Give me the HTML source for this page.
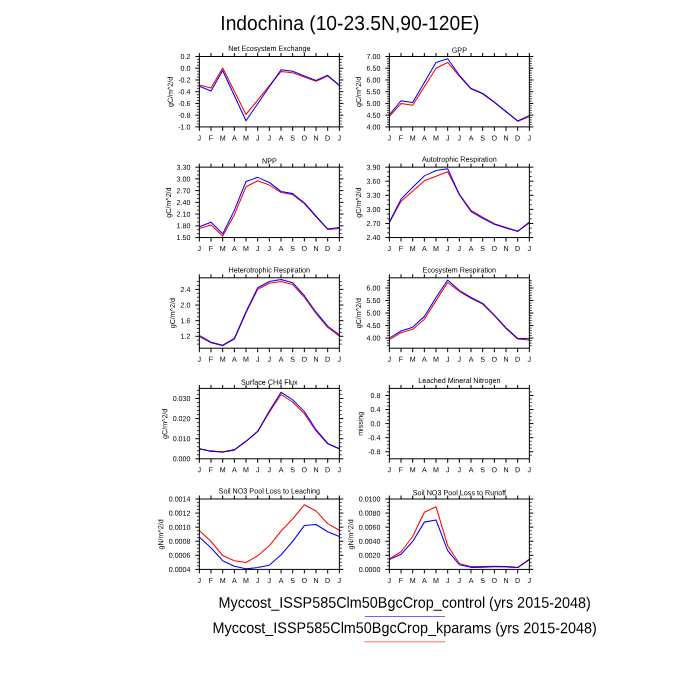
<!DOCTYPE html>
<html lang="en"><head><meta charset="utf-8"><title>Indochina (10-23.5N,90-120E)</title>
<style>html,body{margin:0;padding:0;background:#fff;}svg{display:block;opacity:0.999;will-change:transform;}text{font-family:"Liberation Sans", Arial, Helvetica, sans-serif;fill:#000;text-rendering:geometricPrecision;}.s{font-size:7.12px;}.fr{fill:none;stroke:#000;stroke-width:1;}.tk{stroke:#000;stroke-width:1;fill:none;}.tm{stroke:#000;stroke-width:0.75;fill:none;}.b{fill:none;stroke:#0000ff;stroke-width:1.05;stroke-linejoin:round;stroke-linecap:butt;}.r{fill:none;stroke:#ff0000;stroke-width:1.05;stroke-linejoin:round;stroke-linecap:butt;}</style></head><body>
<svg width="700" height="700" viewBox="0 0 700 700">
<rect x="0" y="0" width="700" height="700" fill="#fff"/>
<text transform="translate(349.9 30) rotate(0.03) scale(1 1.06)" text-anchor="middle" font-size="19.27">Indochina (10-23.5N,90-120E)</text>
<g>
<polyline class="r" points="199.35,85.04 211.02,88.04 222.68,68.11 246.02,114.39 281.02,71.43 292.68,72.71 304.35,77 316.02,81.29 327.68,76.14 339.35,85.36"/>
<polyline class="b" points="199.35,86.32 211.02,91.04 222.68,70.46 246.02,120.71 281.02,69.71 292.68,71.21 304.35,75.93 316.02,80.43 327.68,75.29 339.35,85.36"/>
<rect class="fr" x="199.35" y="56.5" width="140" height="70.4"/>
<path class="tk" d="M199.35 126.9v4M199.35 56.5v-3.5M211.02 126.9v4M211.02 56.5v-3.5M222.68 126.9v4M222.68 56.5v-3.5M234.35 126.9v4M234.35 56.5v-3.5M246.02 126.9v4M246.02 56.5v-3.5M257.68 126.9v4M257.68 56.5v-3.5M269.35 126.9v4M269.35 56.5v-3.5M281.02 126.9v4M281.02 56.5v-3.5M292.68 126.9v4M292.68 56.5v-3.5M304.35 126.9v4M304.35 56.5v-3.5M316.02 126.9v4M316.02 56.5v-3.5M327.68 126.9v4M327.68 56.5v-3.5M339.35 126.9v4M339.35 56.5v-3.5M199.35 56.5h-4M339.35 56.5h4M199.35 68.23h-4M339.35 68.23h4M199.35 79.97h-4M339.35 79.97h4M199.35 91.7h-4M339.35 91.7h4M199.35 103.43h-4M339.35 103.43h4M199.35 115.17h-4M339.35 115.17h4M199.35 126.9h-4M339.35 126.9h4"/>
<path class="tm" d="M199.35 59.43h-2.4M339.35 59.43h2.4M199.35 62.37h-2.4M339.35 62.37h2.4M199.35 65.3h-2.4M339.35 65.3h2.4M199.35 71.17h-2.4M339.35 71.17h2.4M199.35 74.1h-2.4M339.35 74.1h2.4M199.35 77.03h-2.4M339.35 77.03h2.4M199.35 82.9h-2.4M339.35 82.9h2.4M199.35 85.83h-2.4M339.35 85.83h2.4M199.35 88.77h-2.4M339.35 88.77h2.4M199.35 94.63h-2.4M339.35 94.63h2.4M199.35 97.57h-2.4M339.35 97.57h2.4M199.35 100.5h-2.4M339.35 100.5h2.4M199.35 106.37h-2.4M339.35 106.37h2.4M199.35 109.3h-2.4M339.35 109.3h2.4M199.35 112.23h-2.4M339.35 112.23h2.4M199.35 118.1h-2.4M339.35 118.1h2.4M199.35 121.03h-2.4M339.35 121.03h2.4M199.35 123.97h-2.4M339.35 123.97h2.4"/>
<text transform="translate(199.35 140.4) rotate(0.03) scale(1 1.03)" text-anchor="middle" font-size="7.12">J</text>
<text transform="translate(211.02 140.4) rotate(0.03) scale(1 1.03)" text-anchor="middle" font-size="7.12">F</text>
<text transform="translate(222.68 140.4) rotate(0.03) scale(1 1.03)" text-anchor="middle" font-size="7.12">M</text>
<text transform="translate(234.35 140.4) rotate(0.03) scale(1 1.03)" text-anchor="middle" font-size="7.12">A</text>
<text transform="translate(246.02 140.4) rotate(0.03) scale(1 1.03)" text-anchor="middle" font-size="7.12">M</text>
<text transform="translate(257.68 140.4) rotate(0.03) scale(1 1.03)" text-anchor="middle" font-size="7.12">J</text>
<text transform="translate(269.35 140.4) rotate(0.03) scale(1 1.03)" text-anchor="middle" font-size="7.12">J</text>
<text transform="translate(281.02 140.4) rotate(0.03) scale(1 1.03)" text-anchor="middle" font-size="7.12">A</text>
<text transform="translate(292.68 140.4) rotate(0.03) scale(1 1.03)" text-anchor="middle" font-size="7.12">S</text>
<text transform="translate(304.35 140.4) rotate(0.03) scale(1 1.03)" text-anchor="middle" font-size="7.12">O</text>
<text transform="translate(316.02 140.4) rotate(0.03) scale(1 1.03)" text-anchor="middle" font-size="7.12">N</text>
<text transform="translate(327.68 140.4) rotate(0.03) scale(1 1.03)" text-anchor="middle" font-size="7.12">D</text>
<text transform="translate(339.35 140.4) rotate(0.03) scale(1 1.03)" text-anchor="middle" font-size="7.12">J</text>
<text transform="translate(190.45 59.05) rotate(0.03) scale(1 1.03)" text-anchor="end" font-size="7.12">0.2</text>
<text transform="translate(190.45 70.78) rotate(0.03) scale(1 1.03)" text-anchor="end" font-size="7.12">0.0</text>
<text transform="translate(190.45 82.52) rotate(0.03) scale(1 1.03)" text-anchor="end" font-size="7.12">-0.2</text>
<text transform="translate(190.45 94.25) rotate(0.03) scale(1 1.03)" text-anchor="end" font-size="7.12">-0.4</text>
<text transform="translate(190.45 105.98) rotate(0.03) scale(1 1.03)" text-anchor="end" font-size="7.12">-0.6</text>
<text transform="translate(190.45 117.72) rotate(0.03) scale(1 1.03)" text-anchor="end" font-size="7.12">-0.8</text>
<text transform="translate(190.45 129.45) rotate(0.03) scale(1 1.03)" text-anchor="end" font-size="7.12">-1.0</text>
<text transform="translate(172.68 91.9) rotate(-89.97) scale(1 1.03)" text-anchor="middle" font-size="7.12">gC/m^2/d</text>
<text transform="translate(269.35 51.1) rotate(0.03) scale(1 1.06)" text-anchor="middle" font-size="7.2">Net Ecosystem Exchange</text>
</g>
<g>
<polyline class="r" points="389.35,116.43 401.02,103.57 412.68,105.29 436.02,68.21 447.68,62.43 459.35,76.14 471.02,88.79 482.68,93.71 494.35,102.29 517.68,121.14 529.35,116.64"/>
<polyline class="b" points="389.35,114.93 401.02,100.79 412.68,102.5 436.02,62.43 447.68,58.79 459.35,75.29 471.02,88.57 482.68,93.5 494.35,102.07 517.68,120.93 529.35,115.36"/>
<rect class="fr" x="389.35" y="56.5" width="140" height="70.4"/>
<path class="tk" d="M389.35 126.9v4M389.35 56.5v-3.5M401.02 126.9v4M401.02 56.5v-3.5M412.68 126.9v4M412.68 56.5v-3.5M424.35 126.9v4M424.35 56.5v-3.5M436.02 126.9v4M436.02 56.5v-3.5M447.68 126.9v4M447.68 56.5v-3.5M459.35 126.9v4M459.35 56.5v-3.5M471.02 126.9v4M471.02 56.5v-3.5M482.68 126.9v4M482.68 56.5v-3.5M494.35 126.9v4M494.35 56.5v-3.5M506.02 126.9v4M506.02 56.5v-3.5M517.68 126.9v4M517.68 56.5v-3.5M529.35 126.9v4M529.35 56.5v-3.5M389.35 56.5h-4M529.35 56.5h4M389.35 68.23h-4M529.35 68.23h4M389.35 79.97h-4M529.35 79.97h4M389.35 91.7h-4M529.35 91.7h4M389.35 103.43h-4M529.35 103.43h4M389.35 115.17h-4M529.35 115.17h4M389.35 126.9h-4M529.35 126.9h4"/>
<path class="tm" d="M389.35 58.85h-2.4M529.35 58.85h2.4M389.35 61.19h-2.4M529.35 61.19h2.4M389.35 63.54h-2.4M529.35 63.54h2.4M389.35 65.89h-2.4M529.35 65.89h2.4M389.35 70.58h-2.4M529.35 70.58h2.4M389.35 72.93h-2.4M529.35 72.93h2.4M389.35 75.27h-2.4M529.35 75.27h2.4M389.35 77.62h-2.4M529.35 77.62h2.4M389.35 82.31h-2.4M529.35 82.31h2.4M389.35 84.66h-2.4M529.35 84.66h2.4M389.35 87.01h-2.4M529.35 87.01h2.4M389.35 89.35h-2.4M529.35 89.35h2.4M389.35 94.05h-2.4M529.35 94.05h2.4M389.35 96.39h-2.4M529.35 96.39h2.4M389.35 98.74h-2.4M529.35 98.74h2.4M389.35 101.09h-2.4M529.35 101.09h2.4M389.35 105.78h-2.4M529.35 105.78h2.4M389.35 108.13h-2.4M529.35 108.13h2.4M389.35 110.47h-2.4M529.35 110.47h2.4M389.35 112.82h-2.4M529.35 112.82h2.4M389.35 117.51h-2.4M529.35 117.51h2.4M389.35 119.86h-2.4M529.35 119.86h2.4M389.35 122.21h-2.4M529.35 122.21h2.4M389.35 124.55h-2.4M529.35 124.55h2.4"/>
<text transform="translate(389.35 140.4) rotate(0.03) scale(1 1.03)" text-anchor="middle" font-size="7.12">J</text>
<text transform="translate(401.02 140.4) rotate(0.03) scale(1 1.03)" text-anchor="middle" font-size="7.12">F</text>
<text transform="translate(412.68 140.4) rotate(0.03) scale(1 1.03)" text-anchor="middle" font-size="7.12">M</text>
<text transform="translate(424.35 140.4) rotate(0.03) scale(1 1.03)" text-anchor="middle" font-size="7.12">A</text>
<text transform="translate(436.02 140.4) rotate(0.03) scale(1 1.03)" text-anchor="middle" font-size="7.12">M</text>
<text transform="translate(447.68 140.4) rotate(0.03) scale(1 1.03)" text-anchor="middle" font-size="7.12">J</text>
<text transform="translate(459.35 140.4) rotate(0.03) scale(1 1.03)" text-anchor="middle" font-size="7.12">J</text>
<text transform="translate(471.02 140.4) rotate(0.03) scale(1 1.03)" text-anchor="middle" font-size="7.12">A</text>
<text transform="translate(482.68 140.4) rotate(0.03) scale(1 1.03)" text-anchor="middle" font-size="7.12">S</text>
<text transform="translate(494.35 140.4) rotate(0.03) scale(1 1.03)" text-anchor="middle" font-size="7.12">O</text>
<text transform="translate(506.02 140.4) rotate(0.03) scale(1 1.03)" text-anchor="middle" font-size="7.12">N</text>
<text transform="translate(517.68 140.4) rotate(0.03) scale(1 1.03)" text-anchor="middle" font-size="7.12">D</text>
<text transform="translate(529.35 140.4) rotate(0.03) scale(1 1.03)" text-anchor="middle" font-size="7.12">J</text>
<text transform="translate(380.45 59.05) rotate(0.03) scale(1 1.03)" text-anchor="end" font-size="7.12">7.00</text>
<text transform="translate(380.45 70.78) rotate(0.03) scale(1 1.03)" text-anchor="end" font-size="7.12">6.50</text>
<text transform="translate(380.45 82.52) rotate(0.03) scale(1 1.03)" text-anchor="end" font-size="7.12">6.00</text>
<text transform="translate(380.45 94.25) rotate(0.03) scale(1 1.03)" text-anchor="end" font-size="7.12">5.50</text>
<text transform="translate(380.45 105.98) rotate(0.03) scale(1 1.03)" text-anchor="end" font-size="7.12">5.00</text>
<text transform="translate(380.45 117.72) rotate(0.03) scale(1 1.03)" text-anchor="end" font-size="7.12">4.50</text>
<text transform="translate(380.45 129.45) rotate(0.03) scale(1 1.03)" text-anchor="end" font-size="7.12">4.00</text>
<text transform="translate(361.09 91.9) rotate(-89.97) scale(1 1.03)" text-anchor="middle" font-size="7.12">gC/m^2/d</text>
<text transform="translate(459.35 52.75) rotate(0.03) scale(1 1.06)" text-anchor="middle" font-size="7.2">GPP</text>
</g>
<g>
<polyline class="r" points="199.35,228.57 211.02,224.93 222.68,236.07 234.35,214.64 246.02,186.79 257.68,180.79 269.35,185.07 281.02,192.57 292.68,194.5 304.35,203.71 316.02,216.57 327.68,229.43 339.35,228.57"/>
<polyline class="b" points="199.35,226.64 211.02,222.14 222.68,233.93 234.35,210.36 246.02,181.43 257.68,177.36 269.35,182.5 281.02,191.5 292.68,193.64 304.35,202.86 316.02,216.14 327.68,229 339.35,227.5"/>
<rect class="fr" x="199.35" y="167.15" width="140" height="70.4"/>
<path class="tk" d="M199.35 237.55v4M199.35 167.15v-3.5M211.02 237.55v4M211.02 167.15v-3.5M222.68 237.55v4M222.68 167.15v-3.5M234.35 237.55v4M234.35 167.15v-3.5M246.02 237.55v4M246.02 167.15v-3.5M257.68 237.55v4M257.68 167.15v-3.5M269.35 237.55v4M269.35 167.15v-3.5M281.02 237.55v4M281.02 167.15v-3.5M292.68 237.55v4M292.68 167.15v-3.5M304.35 237.55v4M304.35 167.15v-3.5M316.02 237.55v4M316.02 167.15v-3.5M327.68 237.55v4M327.68 167.15v-3.5M339.35 237.55v4M339.35 167.15v-3.5M199.35 167.15h-4M339.35 167.15h4M199.35 178.88h-4M339.35 178.88h4M199.35 190.62h-4M339.35 190.62h4M199.35 202.35h-4M339.35 202.35h4M199.35 214.08h-4M339.35 214.08h4M199.35 225.82h-4M339.35 225.82h4M199.35 237.55h-4M339.35 237.55h4"/>
<path class="tm" d="M199.35 171.06h-2.4M339.35 171.06h2.4M199.35 174.97h-2.4M339.35 174.97h2.4M199.35 182.79h-2.4M339.35 182.79h2.4M199.35 186.71h-2.4M339.35 186.71h2.4M199.35 194.53h-2.4M339.35 194.53h2.4M199.35 198.44h-2.4M339.35 198.44h2.4M199.35 206.26h-2.4M339.35 206.26h2.4M199.35 210.17h-2.4M339.35 210.17h2.4M199.35 217.99h-2.4M339.35 217.99h2.4M199.35 221.91h-2.4M339.35 221.91h2.4M199.35 229.73h-2.4M339.35 229.73h2.4M199.35 233.64h-2.4M339.35 233.64h2.4"/>
<text transform="translate(199.35 251.05) rotate(0.03) scale(1 1.03)" text-anchor="middle" font-size="7.12">J</text>
<text transform="translate(211.02 251.05) rotate(0.03) scale(1 1.03)" text-anchor="middle" font-size="7.12">F</text>
<text transform="translate(222.68 251.05) rotate(0.03) scale(1 1.03)" text-anchor="middle" font-size="7.12">M</text>
<text transform="translate(234.35 251.05) rotate(0.03) scale(1 1.03)" text-anchor="middle" font-size="7.12">A</text>
<text transform="translate(246.02 251.05) rotate(0.03) scale(1 1.03)" text-anchor="middle" font-size="7.12">M</text>
<text transform="translate(257.68 251.05) rotate(0.03) scale(1 1.03)" text-anchor="middle" font-size="7.12">J</text>
<text transform="translate(269.35 251.05) rotate(0.03) scale(1 1.03)" text-anchor="middle" font-size="7.12">J</text>
<text transform="translate(281.02 251.05) rotate(0.03) scale(1 1.03)" text-anchor="middle" font-size="7.12">A</text>
<text transform="translate(292.68 251.05) rotate(0.03) scale(1 1.03)" text-anchor="middle" font-size="7.12">S</text>
<text transform="translate(304.35 251.05) rotate(0.03) scale(1 1.03)" text-anchor="middle" font-size="7.12">O</text>
<text transform="translate(316.02 251.05) rotate(0.03) scale(1 1.03)" text-anchor="middle" font-size="7.12">N</text>
<text transform="translate(327.68 251.05) rotate(0.03) scale(1 1.03)" text-anchor="middle" font-size="7.12">D</text>
<text transform="translate(339.35 251.05) rotate(0.03) scale(1 1.03)" text-anchor="middle" font-size="7.12">J</text>
<text transform="translate(190.45 169.7) rotate(0.03) scale(1 1.03)" text-anchor="end" font-size="7.12">3.30</text>
<text transform="translate(190.45 181.43) rotate(0.03) scale(1 1.03)" text-anchor="end" font-size="7.12">3.00</text>
<text transform="translate(190.45 193.17) rotate(0.03) scale(1 1.03)" text-anchor="end" font-size="7.12">2.70</text>
<text transform="translate(190.45 204.9) rotate(0.03) scale(1 1.03)" text-anchor="end" font-size="7.12">2.40</text>
<text transform="translate(190.45 216.63) rotate(0.03) scale(1 1.03)" text-anchor="end" font-size="7.12">2.10</text>
<text transform="translate(190.45 228.37) rotate(0.03) scale(1 1.03)" text-anchor="end" font-size="7.12">1.80</text>
<text transform="translate(190.45 240.1) rotate(0.03) scale(1 1.03)" text-anchor="end" font-size="7.12">1.50</text>
<text transform="translate(171.09 202.55) rotate(-89.97) scale(1 1.03)" text-anchor="middle" font-size="7.12">gC/m^2/d</text>
<text transform="translate(269.35 163.4) rotate(0.03) scale(1 1.06)" text-anchor="middle" font-size="7.2">NPP</text>
</g>
<g>
<polyline class="r" points="389.35,222.57 401.02,201.36 424.35,180.79 447.68,171.79 459.35,194.29 471.02,210.36 482.68,217.21 494.35,223.64 506.02,227.5 517.68,231.36 529.35,222.79"/>
<polyline class="b" points="389.35,222.14 401.02,199.21 412.68,187.43 424.35,175.86 436.02,170.5 447.68,168.79 459.35,194.71 471.02,211.43 482.68,218.29 494.35,224.29 506.02,227.93 517.68,231.36 529.35,222.14"/>
<rect class="fr" x="389.35" y="167.15" width="140" height="70.4"/>
<path class="tk" d="M389.35 237.55v4M389.35 167.15v-3.5M401.02 237.55v4M401.02 167.15v-3.5M412.68 237.55v4M412.68 167.15v-3.5M424.35 237.55v4M424.35 167.15v-3.5M436.02 237.55v4M436.02 167.15v-3.5M447.68 237.55v4M447.68 167.15v-3.5M459.35 237.55v4M459.35 167.15v-3.5M471.02 237.55v4M471.02 167.15v-3.5M482.68 237.55v4M482.68 167.15v-3.5M494.35 237.55v4M494.35 167.15v-3.5M506.02 237.55v4M506.02 167.15v-3.5M517.68 237.55v4M517.68 167.15v-3.5M529.35 237.55v4M529.35 167.15v-3.5M389.35 167.15h-4M529.35 167.15h4M389.35 181.23h-4M529.35 181.23h4M389.35 195.31h-4M529.35 195.31h4M389.35 209.39h-4M529.35 209.39h4M389.35 223.47h-4M529.35 223.47h4M389.35 237.55h-4M529.35 237.55h4"/>
<path class="tm" d="M389.35 171.84h-2.4M529.35 171.84h2.4M389.35 176.54h-2.4M529.35 176.54h2.4M389.35 185.92h-2.4M529.35 185.92h2.4M389.35 190.62h-2.4M529.35 190.62h2.4M389.35 200h-2.4M529.35 200h2.4M389.35 204.7h-2.4M529.35 204.7h2.4M389.35 214.08h-2.4M529.35 214.08h2.4M389.35 218.78h-2.4M529.35 218.78h2.4M389.35 228.16h-2.4M529.35 228.16h2.4M389.35 232.86h-2.4M529.35 232.86h2.4"/>
<text transform="translate(389.35 251.05) rotate(0.03) scale(1 1.03)" text-anchor="middle" font-size="7.12">J</text>
<text transform="translate(401.02 251.05) rotate(0.03) scale(1 1.03)" text-anchor="middle" font-size="7.12">F</text>
<text transform="translate(412.68 251.05) rotate(0.03) scale(1 1.03)" text-anchor="middle" font-size="7.12">M</text>
<text transform="translate(424.35 251.05) rotate(0.03) scale(1 1.03)" text-anchor="middle" font-size="7.12">A</text>
<text transform="translate(436.02 251.05) rotate(0.03) scale(1 1.03)" text-anchor="middle" font-size="7.12">M</text>
<text transform="translate(447.68 251.05) rotate(0.03) scale(1 1.03)" text-anchor="middle" font-size="7.12">J</text>
<text transform="translate(459.35 251.05) rotate(0.03) scale(1 1.03)" text-anchor="middle" font-size="7.12">J</text>
<text transform="translate(471.02 251.05) rotate(0.03) scale(1 1.03)" text-anchor="middle" font-size="7.12">A</text>
<text transform="translate(482.68 251.05) rotate(0.03) scale(1 1.03)" text-anchor="middle" font-size="7.12">S</text>
<text transform="translate(494.35 251.05) rotate(0.03) scale(1 1.03)" text-anchor="middle" font-size="7.12">O</text>
<text transform="translate(506.02 251.05) rotate(0.03) scale(1 1.03)" text-anchor="middle" font-size="7.12">N</text>
<text transform="translate(517.68 251.05) rotate(0.03) scale(1 1.03)" text-anchor="middle" font-size="7.12">D</text>
<text transform="translate(529.35 251.05) rotate(0.03) scale(1 1.03)" text-anchor="middle" font-size="7.12">J</text>
<text transform="translate(380.45 169.7) rotate(0.03) scale(1 1.03)" text-anchor="end" font-size="7.12">3.90</text>
<text transform="translate(380.45 183.78) rotate(0.03) scale(1 1.03)" text-anchor="end" font-size="7.12">3.60</text>
<text transform="translate(380.45 197.86) rotate(0.03) scale(1 1.03)" text-anchor="end" font-size="7.12">3.30</text>
<text transform="translate(380.45 211.94) rotate(0.03) scale(1 1.03)" text-anchor="end" font-size="7.12">3.00</text>
<text transform="translate(380.45 226.02) rotate(0.03) scale(1 1.03)" text-anchor="end" font-size="7.12">2.70</text>
<text transform="translate(380.45 240.1) rotate(0.03) scale(1 1.03)" text-anchor="end" font-size="7.12">2.40</text>
<text transform="translate(361.09 202.55) rotate(-89.97) scale(1 1.03)" text-anchor="middle" font-size="7.12">gC/m^2/d</text>
<text transform="translate(459.35 161.75) rotate(0.03) scale(1 1.06)" text-anchor="middle" font-size="7.2">Autotrophic Respiration</text>
</g>
<g>
<polyline class="r" points="199.35,336.43 211.02,342.86 222.68,345.64 234.35,339 246.02,312.86 257.68,289.29 269.35,283.29 281.02,281.57 292.68,284.57 304.35,297.21 316.02,313.5 327.68,327.43 339.35,336"/>
<polyline class="b" points="199.35,335.36 211.02,342.21 222.68,345.21 234.35,338.57 246.02,311.79 257.68,287.79 269.35,281.57 281.02,279.43 292.68,282.64 304.35,295.71 316.02,312.21 327.68,326.14 339.35,334.93"/>
<rect class="fr" x="199.35" y="277.8" width="140" height="70.4"/>
<path class="tk" d="M199.35 348.2v4M199.35 277.8v-3.5M211.02 348.2v4M211.02 277.8v-3.5M222.68 348.2v4M222.68 277.8v-3.5M234.35 348.2v4M234.35 277.8v-3.5M246.02 348.2v4M246.02 277.8v-3.5M257.68 348.2v4M257.68 277.8v-3.5M269.35 348.2v4M269.35 277.8v-3.5M281.02 348.2v4M281.02 277.8v-3.5M292.68 348.2v4M292.68 277.8v-3.5M304.35 348.2v4M304.35 277.8v-3.5M316.02 348.2v4M316.02 277.8v-3.5M327.68 348.2v4M327.68 277.8v-3.5M339.35 348.2v4M339.35 277.8v-3.5M199.35 289.42h-4M339.35 289.42h4M199.35 305.04h-4M339.35 305.04h4M199.35 320.67h-4M339.35 320.67h4M199.35 336.3h-4M339.35 336.3h4"/>
<path class="tm" d="M199.35 281.6h-2.4M339.35 281.6h2.4M199.35 285.51h-2.4M339.35 285.51h2.4M199.35 293.32h-2.4M339.35 293.32h2.4M199.35 297.23h-2.4M339.35 297.23h2.4M199.35 301.14h-2.4M339.35 301.14h2.4M199.35 308.95h-2.4M339.35 308.95h2.4M199.35 312.86h-2.4M339.35 312.86h2.4M199.35 316.77h-2.4M339.35 316.77h2.4M199.35 324.58h-2.4M339.35 324.58h2.4M199.35 328.49h-2.4M339.35 328.49h2.4M199.35 332.4h-2.4M339.35 332.4h2.4M199.35 340.21h-2.4M339.35 340.21h2.4M199.35 344.12h-2.4M339.35 344.12h2.4"/>
<text transform="translate(199.35 361.7) rotate(0.03) scale(1 1.03)" text-anchor="middle" font-size="7.12">J</text>
<text transform="translate(211.02 361.7) rotate(0.03) scale(1 1.03)" text-anchor="middle" font-size="7.12">F</text>
<text transform="translate(222.68 361.7) rotate(0.03) scale(1 1.03)" text-anchor="middle" font-size="7.12">M</text>
<text transform="translate(234.35 361.7) rotate(0.03) scale(1 1.03)" text-anchor="middle" font-size="7.12">A</text>
<text transform="translate(246.02 361.7) rotate(0.03) scale(1 1.03)" text-anchor="middle" font-size="7.12">M</text>
<text transform="translate(257.68 361.7) rotate(0.03) scale(1 1.03)" text-anchor="middle" font-size="7.12">J</text>
<text transform="translate(269.35 361.7) rotate(0.03) scale(1 1.03)" text-anchor="middle" font-size="7.12">J</text>
<text transform="translate(281.02 361.7) rotate(0.03) scale(1 1.03)" text-anchor="middle" font-size="7.12">A</text>
<text transform="translate(292.68 361.7) rotate(0.03) scale(1 1.03)" text-anchor="middle" font-size="7.12">S</text>
<text transform="translate(304.35 361.7) rotate(0.03) scale(1 1.03)" text-anchor="middle" font-size="7.12">O</text>
<text transform="translate(316.02 361.7) rotate(0.03) scale(1 1.03)" text-anchor="middle" font-size="7.12">N</text>
<text transform="translate(327.68 361.7) rotate(0.03) scale(1 1.03)" text-anchor="middle" font-size="7.12">D</text>
<text transform="translate(339.35 361.7) rotate(0.03) scale(1 1.03)" text-anchor="middle" font-size="7.12">J</text>
<text transform="translate(190.45 291.97) rotate(0.03) scale(1 1.03)" text-anchor="end" font-size="7.12">2.4</text>
<text transform="translate(190.45 307.59) rotate(0.03) scale(1 1.03)" text-anchor="end" font-size="7.12">2.0</text>
<text transform="translate(190.45 323.22) rotate(0.03) scale(1 1.03)" text-anchor="end" font-size="7.12">1.6</text>
<text transform="translate(190.45 338.85) rotate(0.03) scale(1 1.03)" text-anchor="end" font-size="7.12">1.2</text>
<text transform="translate(175.05 313.2) rotate(-89.97) scale(1 1.03)" text-anchor="middle" font-size="7.12">gC/m^2/d</text>
<text transform="translate(269.35 272.4) rotate(0.03) scale(1 1.06)" text-anchor="middle" font-size="7.2">Heterotrophic Respiration</text>
</g>
<g>
<polyline class="r" points="389.35,339.64 401.02,332.79 412.68,329.36 424.35,319.29 436.02,300.64 447.68,282.43 459.35,291.43 471.02,298.29 482.68,304.07 494.35,315.64 506.02,328.5 517.68,339 529.35,340.07"/>
<polyline class="b" points="389.35,338.14 401.02,331.07 412.68,327.21 424.35,316.5 436.02,297.43 447.68,280.07 459.35,290.36 471.02,297.43 482.68,303.43 494.35,315 506.02,327.86 517.68,338.36 529.35,338.79"/>
<rect class="fr" x="389.35" y="277.8" width="140" height="70.4"/>
<path class="tk" d="M389.35 348.2v4M389.35 277.8v-3.5M401.02 348.2v4M401.02 277.8v-3.5M412.68 348.2v4M412.68 277.8v-3.5M424.35 348.2v4M424.35 277.8v-3.5M436.02 348.2v4M436.02 277.8v-3.5M447.68 348.2v4M447.68 277.8v-3.5M459.35 348.2v4M459.35 277.8v-3.5M471.02 348.2v4M471.02 277.8v-3.5M482.68 348.2v4M482.68 277.8v-3.5M494.35 348.2v4M494.35 277.8v-3.5M506.02 348.2v4M506.02 277.8v-3.5M517.68 348.2v4M517.68 277.8v-3.5M529.35 348.2v4M529.35 277.8v-3.5M389.35 288h-4M529.35 288h4M389.35 300.52h-4M529.35 300.52h4M389.35 313.04h-4M529.35 313.04h4M389.35 325.55h-4M529.35 325.55h4M389.35 338.07h-4M529.35 338.07h4"/>
<path class="tm" d="M389.35 280.49h-2.4M529.35 280.49h2.4M389.35 282.99h-2.4M529.35 282.99h2.4M389.35 285.5h-2.4M529.35 285.5h2.4M389.35 290.5h-2.4M529.35 290.5h2.4M389.35 293.01h-2.4M529.35 293.01h2.4M389.35 295.51h-2.4M529.35 295.51h2.4M389.35 298.01h-2.4M529.35 298.01h2.4M389.35 303.02h-2.4M529.35 303.02h2.4M389.35 305.52h-2.4M529.35 305.52h2.4M389.35 308.03h-2.4M529.35 308.03h2.4M389.35 310.53h-2.4M529.35 310.53h2.4M389.35 315.54h-2.4M529.35 315.54h2.4M389.35 318.04h-2.4M529.35 318.04h2.4M389.35 320.55h-2.4M529.35 320.55h2.4M389.35 323.05h-2.4M529.35 323.05h2.4M389.35 328.06h-2.4M529.35 328.06h2.4M389.35 330.56h-2.4M529.35 330.56h2.4M389.35 333.06h-2.4M529.35 333.06h2.4M389.35 335.57h-2.4M529.35 335.57h2.4M389.35 340.57h-2.4M529.35 340.57h2.4M389.35 343.08h-2.4M529.35 343.08h2.4M389.35 345.58h-2.4M529.35 345.58h2.4"/>
<text transform="translate(389.35 361.7) rotate(0.03) scale(1 1.03)" text-anchor="middle" font-size="7.12">J</text>
<text transform="translate(401.02 361.7) rotate(0.03) scale(1 1.03)" text-anchor="middle" font-size="7.12">F</text>
<text transform="translate(412.68 361.7) rotate(0.03) scale(1 1.03)" text-anchor="middle" font-size="7.12">M</text>
<text transform="translate(424.35 361.7) rotate(0.03) scale(1 1.03)" text-anchor="middle" font-size="7.12">A</text>
<text transform="translate(436.02 361.7) rotate(0.03) scale(1 1.03)" text-anchor="middle" font-size="7.12">M</text>
<text transform="translate(447.68 361.7) rotate(0.03) scale(1 1.03)" text-anchor="middle" font-size="7.12">J</text>
<text transform="translate(459.35 361.7) rotate(0.03) scale(1 1.03)" text-anchor="middle" font-size="7.12">J</text>
<text transform="translate(471.02 361.7) rotate(0.03) scale(1 1.03)" text-anchor="middle" font-size="7.12">A</text>
<text transform="translate(482.68 361.7) rotate(0.03) scale(1 1.03)" text-anchor="middle" font-size="7.12">S</text>
<text transform="translate(494.35 361.7) rotate(0.03) scale(1 1.03)" text-anchor="middle" font-size="7.12">O</text>
<text transform="translate(506.02 361.7) rotate(0.03) scale(1 1.03)" text-anchor="middle" font-size="7.12">N</text>
<text transform="translate(517.68 361.7) rotate(0.03) scale(1 1.03)" text-anchor="middle" font-size="7.12">D</text>
<text transform="translate(529.35 361.7) rotate(0.03) scale(1 1.03)" text-anchor="middle" font-size="7.12">J</text>
<text transform="translate(380.45 290.55) rotate(0.03) scale(1 1.03)" text-anchor="end" font-size="7.12">6.00</text>
<text transform="translate(380.45 303.07) rotate(0.03) scale(1 1.03)" text-anchor="end" font-size="7.12">5.50</text>
<text transform="translate(380.45 315.59) rotate(0.03) scale(1 1.03)" text-anchor="end" font-size="7.12">5.00</text>
<text transform="translate(380.45 328.1) rotate(0.03) scale(1 1.03)" text-anchor="end" font-size="7.12">4.50</text>
<text transform="translate(380.45 340.62) rotate(0.03) scale(1 1.03)" text-anchor="end" font-size="7.12">4.00</text>
<text transform="translate(361.09 313.2) rotate(-89.97) scale(1 1.03)" text-anchor="middle" font-size="7.12">gC/m^2/d</text>
<text transform="translate(459.35 272.4) rotate(0.03) scale(1 1.06)" text-anchor="middle" font-size="7.2">Ecosystem Respiration</text>
</g>
<g>
<polyline class="r" points="199.35,448.79 211.02,451.14 222.68,452 234.35,449.86 246.02,441.29 257.68,431.43 269.35,412.14 281.02,394.36 292.68,402.07 304.35,413.64 316.02,431 327.68,443.86 339.35,448.79"/>
<polyline class="b" points="199.35,448.79 211.02,451.14 222.68,452 234.35,449.86 246.02,441.29 257.68,431.43 269.35,411.07 281.02,392.21 292.68,399.93 304.35,411.5 316.02,429.71 327.68,443.43 339.35,448.79"/>
<rect class="fr" x="199.35" y="388.4" width="140" height="70.4"/>
<path class="tk" d="M199.35 458.8v4M199.35 388.4v-3.5M211.02 458.8v4M211.02 388.4v-3.5M222.68 458.8v4M222.68 388.4v-3.5M234.35 458.8v4M234.35 388.4v-3.5M246.02 458.8v4M246.02 388.4v-3.5M257.68 458.8v4M257.68 388.4v-3.5M269.35 458.8v4M269.35 388.4v-3.5M281.02 458.8v4M281.02 388.4v-3.5M292.68 458.8v4M292.68 388.4v-3.5M304.35 458.8v4M304.35 388.4v-3.5M316.02 458.8v4M316.02 388.4v-3.5M327.68 458.8v4M327.68 388.4v-3.5M339.35 458.8v4M339.35 388.4v-3.5M199.35 398.47h-4M339.35 398.47h4M199.35 418.58h-4M339.35 418.58h4M199.35 438.69h-4M339.35 438.69h4M199.35 458.81h-4M339.35 458.81h4"/>
<path class="tm" d="M199.35 390.42h-2.4M339.35 390.42h2.4M199.35 394.44h-2.4M339.35 394.44h2.4M199.35 402.49h-2.4M339.35 402.49h2.4M199.35 406.51h-2.4M339.35 406.51h2.4M199.35 410.54h-2.4M339.35 410.54h2.4M199.35 414.56h-2.4M339.35 414.56h2.4M199.35 422.6h-2.4M339.35 422.6h2.4M199.35 426.63h-2.4M339.35 426.63h2.4M199.35 430.65h-2.4M339.35 430.65h2.4M199.35 434.67h-2.4M339.35 434.67h2.4M199.35 442.72h-2.4M339.35 442.72h2.4M199.35 446.74h-2.4M339.35 446.74h2.4M199.35 450.76h-2.4M339.35 450.76h2.4M199.35 454.78h-2.4M339.35 454.78h2.4"/>
<text transform="translate(199.35 472.3) rotate(0.03) scale(1 1.03)" text-anchor="middle" font-size="7.12">J</text>
<text transform="translate(211.02 472.3) rotate(0.03) scale(1 1.03)" text-anchor="middle" font-size="7.12">F</text>
<text transform="translate(222.68 472.3) rotate(0.03) scale(1 1.03)" text-anchor="middle" font-size="7.12">M</text>
<text transform="translate(234.35 472.3) rotate(0.03) scale(1 1.03)" text-anchor="middle" font-size="7.12">A</text>
<text transform="translate(246.02 472.3) rotate(0.03) scale(1 1.03)" text-anchor="middle" font-size="7.12">M</text>
<text transform="translate(257.68 472.3) rotate(0.03) scale(1 1.03)" text-anchor="middle" font-size="7.12">J</text>
<text transform="translate(269.35 472.3) rotate(0.03) scale(1 1.03)" text-anchor="middle" font-size="7.12">J</text>
<text transform="translate(281.02 472.3) rotate(0.03) scale(1 1.03)" text-anchor="middle" font-size="7.12">A</text>
<text transform="translate(292.68 472.3) rotate(0.03) scale(1 1.03)" text-anchor="middle" font-size="7.12">S</text>
<text transform="translate(304.35 472.3) rotate(0.03) scale(1 1.03)" text-anchor="middle" font-size="7.12">O</text>
<text transform="translate(316.02 472.3) rotate(0.03) scale(1 1.03)" text-anchor="middle" font-size="7.12">N</text>
<text transform="translate(327.68 472.3) rotate(0.03) scale(1 1.03)" text-anchor="middle" font-size="7.12">D</text>
<text transform="translate(339.35 472.3) rotate(0.03) scale(1 1.03)" text-anchor="middle" font-size="7.12">J</text>
<text transform="translate(190.45 401.02) rotate(0.03) scale(1 1.03)" text-anchor="end" font-size="7.12">0.030</text>
<text transform="translate(190.45 421.13) rotate(0.03) scale(1 1.03)" text-anchor="end" font-size="7.12">0.020</text>
<text transform="translate(190.45 441.24) rotate(0.03) scale(1 1.03)" text-anchor="end" font-size="7.12">0.010</text>
<text transform="translate(190.45 461.36) rotate(0.03) scale(1 1.03)" text-anchor="end" font-size="7.12">0.000</text>
<text transform="translate(167.14 423.8) rotate(-89.97) scale(1 1.03)" text-anchor="middle" font-size="7.12">gC/m^2/d</text>
<text transform="translate(269.35 384.65) rotate(0.03) scale(1 1.06)" text-anchor="middle" font-size="7.2">Surface CH4 Flux</text>
</g>
<g>
<rect class="fr" x="389.35" y="388.4" width="140" height="70.4"/>
<path class="tk" d="M389.35 458.8v4M389.35 388.4v-3.5M401.02 458.8v4M401.02 388.4v-3.5M412.68 458.8v4M412.68 388.4v-3.5M424.35 458.8v4M424.35 388.4v-3.5M436.02 458.8v4M436.02 388.4v-3.5M447.68 458.8v4M447.68 388.4v-3.5M459.35 458.8v4M459.35 388.4v-3.5M471.02 458.8v4M471.02 388.4v-3.5M482.68 458.8v4M482.68 388.4v-3.5M494.35 458.8v4M494.35 388.4v-3.5M506.02 458.8v4M506.02 388.4v-3.5M517.68 458.8v4M517.68 388.4v-3.5M529.35 458.8v4M529.35 388.4v-3.5M389.35 395.44h-4M529.35 395.44h4M389.35 409.52h-4M529.35 409.52h4M389.35 423.6h-4M529.35 423.6h4M389.35 437.68h-4M529.35 437.68h4M389.35 451.76h-4M529.35 451.76h4"/>
<path class="tm" d="M389.35 391.92h-2.4M529.35 391.92h2.4M389.35 398.96h-2.4M529.35 398.96h2.4M389.35 402.48h-2.4M529.35 402.48h2.4M389.35 406h-2.4M529.35 406h2.4M389.35 413.04h-2.4M529.35 413.04h2.4M389.35 416.56h-2.4M529.35 416.56h2.4M389.35 420.08h-2.4M529.35 420.08h2.4M389.35 427.12h-2.4M529.35 427.12h2.4M389.35 430.64h-2.4M529.35 430.64h2.4M389.35 434.16h-2.4M529.35 434.16h2.4M389.35 441.2h-2.4M529.35 441.2h2.4M389.35 444.72h-2.4M529.35 444.72h2.4M389.35 448.24h-2.4M529.35 448.24h2.4M389.35 455.28h-2.4M529.35 455.28h2.4"/>
<text transform="translate(389.35 472.3) rotate(0.03) scale(1 1.03)" text-anchor="middle" font-size="7.12">J</text>
<text transform="translate(401.02 472.3) rotate(0.03) scale(1 1.03)" text-anchor="middle" font-size="7.12">F</text>
<text transform="translate(412.68 472.3) rotate(0.03) scale(1 1.03)" text-anchor="middle" font-size="7.12">M</text>
<text transform="translate(424.35 472.3) rotate(0.03) scale(1 1.03)" text-anchor="middle" font-size="7.12">A</text>
<text transform="translate(436.02 472.3) rotate(0.03) scale(1 1.03)" text-anchor="middle" font-size="7.12">M</text>
<text transform="translate(447.68 472.3) rotate(0.03) scale(1 1.03)" text-anchor="middle" font-size="7.12">J</text>
<text transform="translate(459.35 472.3) rotate(0.03) scale(1 1.03)" text-anchor="middle" font-size="7.12">J</text>
<text transform="translate(471.02 472.3) rotate(0.03) scale(1 1.03)" text-anchor="middle" font-size="7.12">A</text>
<text transform="translate(482.68 472.3) rotate(0.03) scale(1 1.03)" text-anchor="middle" font-size="7.12">S</text>
<text transform="translate(494.35 472.3) rotate(0.03) scale(1 1.03)" text-anchor="middle" font-size="7.12">O</text>
<text transform="translate(506.02 472.3) rotate(0.03) scale(1 1.03)" text-anchor="middle" font-size="7.12">N</text>
<text transform="translate(517.68 472.3) rotate(0.03) scale(1 1.03)" text-anchor="middle" font-size="7.12">D</text>
<text transform="translate(529.35 472.3) rotate(0.03) scale(1 1.03)" text-anchor="middle" font-size="7.12">J</text>
<text transform="translate(380.45 397.99) rotate(0.03) scale(1 1.03)" text-anchor="end" font-size="7.12">0.8</text>
<text transform="translate(380.45 412.07) rotate(0.03) scale(1 1.03)" text-anchor="end" font-size="7.12">0.4</text>
<text transform="translate(380.45 426.15) rotate(0.03) scale(1 1.03)" text-anchor="end" font-size="7.12">0.0</text>
<text transform="translate(380.45 440.23) rotate(0.03) scale(1 1.03)" text-anchor="end" font-size="7.12">-0.4</text>
<text transform="translate(380.45 454.31) rotate(0.03) scale(1 1.03)" text-anchor="end" font-size="7.12">-0.8</text>
<text transform="translate(362.68 423.8) rotate(-89.97) scale(1 1.03)" text-anchor="middle" font-size="7.12">missing</text>
<text transform="translate(459.35 383) rotate(0.03) scale(1 1.06)" text-anchor="middle" font-size="7.2">Leached Mineral Nitrogen</text>
</g>
<g>
<polyline class="r" points="199.35,530.71 211.02,541.43 222.68,555.57 234.35,560.71 246.02,562.43 257.68,555.79 269.35,545.71 281.02,531.14 292.68,518.93 304.35,504.79 316.02,511 327.68,523.64 339.35,530.29"/>
<polyline class="b" points="199.35,537.14 211.02,547.86 222.68,560.71 234.35,566.29 246.02,568.86 257.68,567.57 269.35,565.21 281.02,554.93 292.68,541.43 304.35,525.57 316.02,524.5 327.68,531.79 339.35,536.5"/>
<rect class="fr" x="199.35" y="499" width="140" height="70.4"/>
<path class="tk" d="M199.35 569.4v4M199.35 499v-3.5M211.02 569.4v4M211.02 499v-3.5M222.68 569.4v4M222.68 499v-3.5M234.35 569.4v4M234.35 499v-3.5M246.02 569.4v4M246.02 499v-3.5M257.68 569.4v4M257.68 499v-3.5M269.35 569.4v4M269.35 499v-3.5M281.02 569.4v4M281.02 499v-3.5M292.68 569.4v4M292.68 499v-3.5M304.35 569.4v4M304.35 499v-3.5M316.02 569.4v4M316.02 499v-3.5M327.68 569.4v4M327.68 499v-3.5M339.35 569.4v4M339.35 499v-3.5M199.35 499h-4M339.35 499h4M199.35 513.08h-4M339.35 513.08h4M199.35 527.16h-4M339.35 527.16h4M199.35 541.24h-4M339.35 541.24h4M199.35 555.32h-4M339.35 555.32h4M199.35 569.4h-4M339.35 569.4h4"/>
<path class="tm" d="M199.35 502.52h-2.4M339.35 502.52h2.4M199.35 506.04h-2.4M339.35 506.04h2.4M199.35 509.56h-2.4M339.35 509.56h2.4M199.35 516.6h-2.4M339.35 516.6h2.4M199.35 520.12h-2.4M339.35 520.12h2.4M199.35 523.64h-2.4M339.35 523.64h2.4M199.35 530.68h-2.4M339.35 530.68h2.4M199.35 534.2h-2.4M339.35 534.2h2.4M199.35 537.72h-2.4M339.35 537.72h2.4M199.35 544.76h-2.4M339.35 544.76h2.4M199.35 548.28h-2.4M339.35 548.28h2.4M199.35 551.8h-2.4M339.35 551.8h2.4M199.35 558.84h-2.4M339.35 558.84h2.4M199.35 562.36h-2.4M339.35 562.36h2.4M199.35 565.88h-2.4M339.35 565.88h2.4"/>
<text transform="translate(199.35 582.9) rotate(0.03) scale(1 1.03)" text-anchor="middle" font-size="7.12">J</text>
<text transform="translate(211.02 582.9) rotate(0.03) scale(1 1.03)" text-anchor="middle" font-size="7.12">F</text>
<text transform="translate(222.68 582.9) rotate(0.03) scale(1 1.03)" text-anchor="middle" font-size="7.12">M</text>
<text transform="translate(234.35 582.9) rotate(0.03) scale(1 1.03)" text-anchor="middle" font-size="7.12">A</text>
<text transform="translate(246.02 582.9) rotate(0.03) scale(1 1.03)" text-anchor="middle" font-size="7.12">M</text>
<text transform="translate(257.68 582.9) rotate(0.03) scale(1 1.03)" text-anchor="middle" font-size="7.12">J</text>
<text transform="translate(269.35 582.9) rotate(0.03) scale(1 1.03)" text-anchor="middle" font-size="7.12">J</text>
<text transform="translate(281.02 582.9) rotate(0.03) scale(1 1.03)" text-anchor="middle" font-size="7.12">A</text>
<text transform="translate(292.68 582.9) rotate(0.03) scale(1 1.03)" text-anchor="middle" font-size="7.12">S</text>
<text transform="translate(304.35 582.9) rotate(0.03) scale(1 1.03)" text-anchor="middle" font-size="7.12">O</text>
<text transform="translate(316.02 582.9) rotate(0.03) scale(1 1.03)" text-anchor="middle" font-size="7.12">N</text>
<text transform="translate(327.68 582.9) rotate(0.03) scale(1 1.03)" text-anchor="middle" font-size="7.12">D</text>
<text transform="translate(339.35 582.9) rotate(0.03) scale(1 1.03)" text-anchor="middle" font-size="7.12">J</text>
<text transform="translate(190.45 501.55) rotate(0.03) scale(1 1.03)" text-anchor="end" font-size="7.12">0.0014</text>
<text transform="translate(190.45 515.63) rotate(0.03) scale(1 1.03)" text-anchor="end" font-size="7.12">0.0012</text>
<text transform="translate(190.45 529.71) rotate(0.03) scale(1 1.03)" text-anchor="end" font-size="7.12">0.0010</text>
<text transform="translate(190.45 543.79) rotate(0.03) scale(1 1.03)" text-anchor="end" font-size="7.12">0.0008</text>
<text transform="translate(190.45 557.87) rotate(0.03) scale(1 1.03)" text-anchor="end" font-size="7.12">0.0006</text>
<text transform="translate(190.45 571.95) rotate(0.03) scale(1 1.03)" text-anchor="end" font-size="7.12">0.0004</text>
<text transform="translate(163.18 534.4) rotate(-89.97) scale(1 1.03)" text-anchor="middle" font-size="7.12">gN/m^2/d</text>
<text transform="translate(269.35 493.6) rotate(0.03) scale(1 1.06)" text-anchor="middle" font-size="7.2">Soil NO3 Pool Loss to Leaching</text>
</g>
<g>
<polyline class="r" points="389.35,559 401.02,551.71 412.68,536.5 424.35,512.29 436.02,506.71 447.68,545.71 459.35,563.5 471.02,566.71 482.68,566.5 494.35,566.39 506.02,566.61 517.68,567.46 529.35,559.21"/>
<polyline class="b" points="389.35,559.64 401.02,554.29 412.68,541.43 424.35,522.14 436.02,520 447.68,550.64 459.35,564.79 471.02,567.36 482.68,567.14 494.35,566.71 506.02,566.71 517.68,567.57 529.35,559.64"/>
<rect class="fr" x="389.35" y="499" width="140" height="70.4"/>
<path class="tk" d="M389.35 569.4v4M389.35 499v-3.5M401.02 569.4v4M401.02 499v-3.5M412.68 569.4v4M412.68 499v-3.5M424.35 569.4v4M424.35 499v-3.5M436.02 569.4v4M436.02 499v-3.5M447.68 569.4v4M447.68 499v-3.5M459.35 569.4v4M459.35 499v-3.5M471.02 569.4v4M471.02 499v-3.5M482.68 569.4v4M482.68 499v-3.5M494.35 569.4v4M494.35 499v-3.5M506.02 569.4v4M506.02 499v-3.5M517.68 569.4v4M517.68 499v-3.5M529.35 569.4v4M529.35 499v-3.5M389.35 499h-4M529.35 499h4M389.35 513.08h-4M529.35 513.08h4M389.35 527.16h-4M529.35 527.16h4M389.35 541.24h-4M529.35 541.24h4M389.35 555.32h-4M529.35 555.32h4M389.35 569.4h-4M529.35 569.4h4"/>
<path class="tm" d="M389.35 502.52h-2.4M529.35 502.52h2.4M389.35 506.04h-2.4M529.35 506.04h2.4M389.35 509.56h-2.4M529.35 509.56h2.4M389.35 516.6h-2.4M529.35 516.6h2.4M389.35 520.12h-2.4M529.35 520.12h2.4M389.35 523.64h-2.4M529.35 523.64h2.4M389.35 530.68h-2.4M529.35 530.68h2.4M389.35 534.2h-2.4M529.35 534.2h2.4M389.35 537.72h-2.4M529.35 537.72h2.4M389.35 544.76h-2.4M529.35 544.76h2.4M389.35 548.28h-2.4M529.35 548.28h2.4M389.35 551.8h-2.4M529.35 551.8h2.4M389.35 558.84h-2.4M529.35 558.84h2.4M389.35 562.36h-2.4M529.35 562.36h2.4M389.35 565.88h-2.4M529.35 565.88h2.4"/>
<text transform="translate(389.35 582.9) rotate(0.03) scale(1 1.03)" text-anchor="middle" font-size="7.12">J</text>
<text transform="translate(401.02 582.9) rotate(0.03) scale(1 1.03)" text-anchor="middle" font-size="7.12">F</text>
<text transform="translate(412.68 582.9) rotate(0.03) scale(1 1.03)" text-anchor="middle" font-size="7.12">M</text>
<text transform="translate(424.35 582.9) rotate(0.03) scale(1 1.03)" text-anchor="middle" font-size="7.12">A</text>
<text transform="translate(436.02 582.9) rotate(0.03) scale(1 1.03)" text-anchor="middle" font-size="7.12">M</text>
<text transform="translate(447.68 582.9) rotate(0.03) scale(1 1.03)" text-anchor="middle" font-size="7.12">J</text>
<text transform="translate(459.35 582.9) rotate(0.03) scale(1 1.03)" text-anchor="middle" font-size="7.12">J</text>
<text transform="translate(471.02 582.9) rotate(0.03) scale(1 1.03)" text-anchor="middle" font-size="7.12">A</text>
<text transform="translate(482.68 582.9) rotate(0.03) scale(1 1.03)" text-anchor="middle" font-size="7.12">S</text>
<text transform="translate(494.35 582.9) rotate(0.03) scale(1 1.03)" text-anchor="middle" font-size="7.12">O</text>
<text transform="translate(506.02 582.9) rotate(0.03) scale(1 1.03)" text-anchor="middle" font-size="7.12">N</text>
<text transform="translate(517.68 582.9) rotate(0.03) scale(1 1.03)" text-anchor="middle" font-size="7.12">D</text>
<text transform="translate(529.35 582.9) rotate(0.03) scale(1 1.03)" text-anchor="middle" font-size="7.12">J</text>
<text transform="translate(380.45 501.55) rotate(0.03) scale(1 1.03)" text-anchor="end" font-size="7.12">0.0100</text>
<text transform="translate(380.45 515.63) rotate(0.03) scale(1 1.03)" text-anchor="end" font-size="7.12">0.0080</text>
<text transform="translate(380.45 529.71) rotate(0.03) scale(1 1.03)" text-anchor="end" font-size="7.12">0.0060</text>
<text transform="translate(380.45 543.79) rotate(0.03) scale(1 1.03)" text-anchor="end" font-size="7.12">0.0040</text>
<text transform="translate(380.45 557.87) rotate(0.03) scale(1 1.03)" text-anchor="end" font-size="7.12">0.0020</text>
<text transform="translate(380.45 571.95) rotate(0.03) scale(1 1.03)" text-anchor="end" font-size="7.12">0.0000</text>
<text transform="translate(353.18 534.4) rotate(-89.97) scale(1 1.03)" text-anchor="middle" font-size="7.12">gN/m^2/d</text>
<text transform="translate(459.35 495.25) rotate(0.03) scale(1 1.06)" text-anchor="middle" font-size="7.2">Soil NO3 Pool Loss to Runoff</text>
</g>
<text transform="translate(404.65 607.8) rotate(0.03) scale(1 1.07)" text-anchor="middle" font-size="14.42">Myccost_ISSP585Clm50BgcCrop_control (yrs 2015-2048)</text>
<path d="M364.7 616.5H445" stroke="#0000ff" stroke-width="0.6" fill="none"/>
<text transform="translate(404.7 633.1) rotate(0.03) scale(1 1.07)" text-anchor="middle" font-size="14.42">Myccost_ISSP585Clm50BgcCrop_kparams (yrs 2015-2048)</text>
<path d="M364.7 641.8H445" stroke="#ff0000" stroke-width="0.6" fill="none"/>
</svg></body></html>
